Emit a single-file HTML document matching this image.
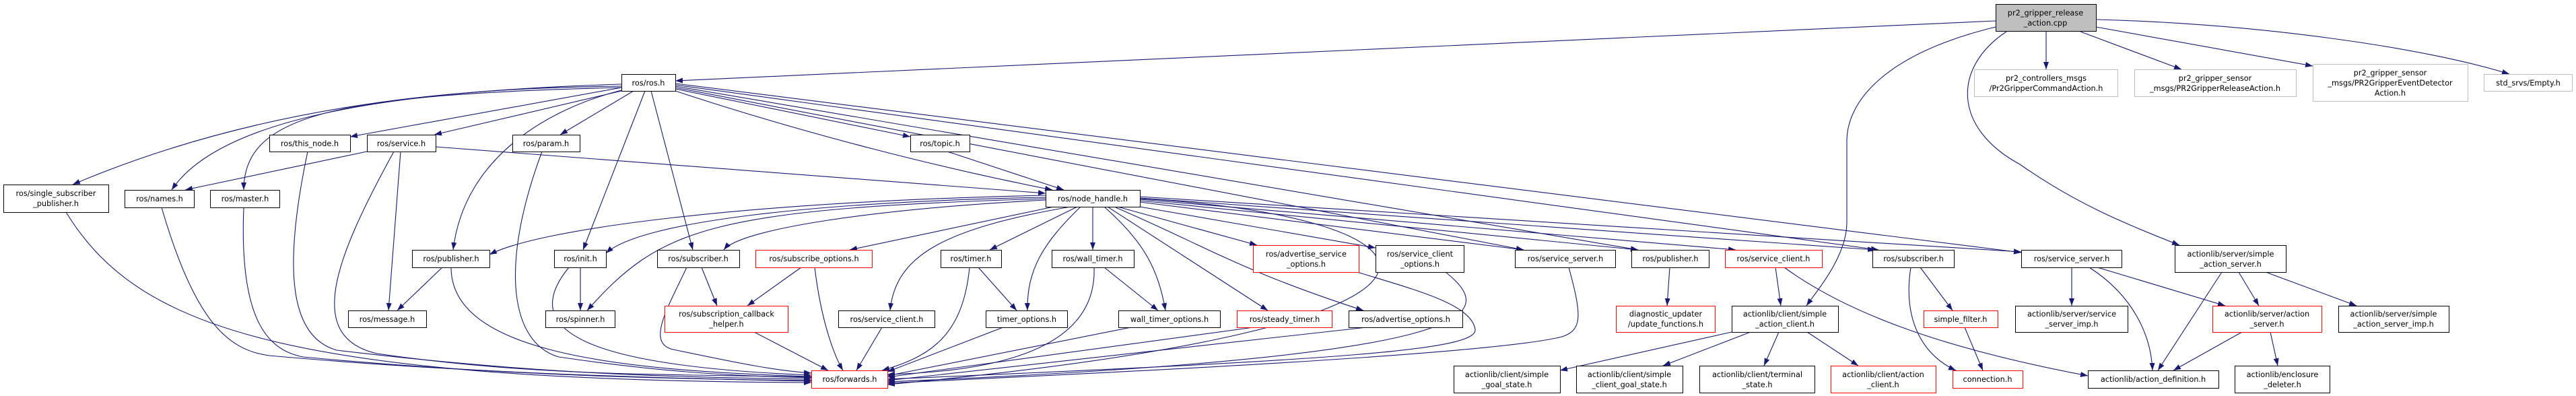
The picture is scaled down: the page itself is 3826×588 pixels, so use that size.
<!DOCTYPE html>
<html><head><meta charset="utf-8"><style>
html,body{margin:0;padding:0;background:#fff;}
svg{display:block;}
text{font-family:"DejaVu Sans","Liberation Sans",sans-serif;font-size:11.3px;fill:#000;text-anchor:middle;}
.e{fill:none;stroke:#191970;stroke-width:1.1;marker-end:url(#ah);}
.n{fill:#fff;stroke:#000;stroke-width:1;}
.r{fill:#fff;stroke:#ff0000;stroke-width:1;}
.g{fill:#fff;stroke:#bfbfbf;stroke-width:1;}
</style></head><body>
<svg width="3826" height="588" viewBox="0 0 3826 588" xmlns="http://www.w3.org/2000/svg">
<defs><marker id="ah" markerUnits="userSpaceOnUse" markerWidth="12" markerHeight="10" refX="11" refY="4" orient="auto"><path d="M0,0 L11,4 L0,8 z" fill="#191970"/></marker></defs>
<g>
<!-- pr2 edges -->
<path class="e" d="M2964,31 L1003,120"/>
<path class="e" d="M2964,40 C2800,80 2743,150 2743,210 L2743,330 C2743,380 2700,430 2683,454"/>
<path class="e" d="M2980,47 C2900,100 2900,190 3000,244 C3080,300 3150,330 3237,364"/>
<path class="e" d="M3039,46 L3039,103"/>
<path class="e" d="M3090,47 L3240,103"/>
<path class="e" d="M3113,40 L3435,98"/>
<path class="e" d="M3113,29 C3350,35 3600,70 3727,110"/>
<!-- ros.h edges -->
<path class="e" d="M923,128 C700,130 400,150 108,274"/>
<path class="e" d="M923,125 C600,135 330,170 255,282"/>
<path class="e" d="M923,130 C500,140 362,170 362,282"/>
<path class="e" d="M923,130 L520,203"/>
<path class="e" d="M923,135 L645,200"/>
<path class="e" d="M941,135 L832,200"/>
<path class="e" d="M923,134 C820,160 690,230 673,371"/>
<path class="e" d="M958,135 L866,371"/>
<path class="e" d="M967,135 L1029,371"/>
<path class="e" d="M1003,132 L1352,203"/>
<path class="e" d="M1003,135 C1200,200 1400,250 1563,282"/>
<path class="e" d="M1003,130 L2263,371"/>
<path class="e" d="M1003,128 L2433,371"/>
<path class="e" d="M1003,126 L2790,371"/>
<path class="e" d="M1003,124 L3002,375"/>
<!-- service.h -->
<path class="e" d="M545,225 L275,282"/>
<path class="e" d="M595,225 L577,461"/>
<path class="e" d="M585,225 C500,380 450,500 560,525 C800,560 1000,555 1205,560"/>
<path class="e" d="M647,218 L1553,287"/>
<path class="e" d="M1407,225 L1580,282"/>
<!-- to forwards from left -->
<path class="e" d="M98,315 C200,480 400,565 1205,568"/>
<path class="e" d="M240,308 C290,480 340,520 400,528 C700,555 1000,562 1205,566"/>
<path class="e" d="M362,308 C355,480 400,520 450,530 C750,558 1000,563 1205,565"/>
<path class="e" d="M457,225 C420,400 430,500 500,520 C800,556 1000,560 1205,563"/>
<path class="e" d="M805,225 C740,400 760,510 830,530 C1000,555 1100,558 1205,561"/>
<path class="e" d="M670,397 C670,520 900,550 1205,559"/>
<path class="e" d="M657,397 L590,461"/>
<path class="e" d="M862,397 L862,461"/>
<path class="e" d="M845,397 C760,500 900,545 1205,557"/>
<path class="e" d="M1042,397 L1065,454"/>
<path class="e" d="M1020,397 C990,460 960,510 1000,519 C1100,540 1150,550 1205,554"/>
<path class="e" d="M1190,397 L1110,454"/>
<path class="e" d="M1210,397 C1220,480 1240,530 1252,550"/>
<path class="e" d="M1120,493 L1230,550"/>
<path class="e" d="M1310,486 L1272,550"/>
<path class="e" d="M1453,397 L1510,461"/>
<path class="e" d="M1440,397 C1430,500 1380,530 1310,550"/>
<path class="e" d="M1490,486 L1318,552"/>
<path class="e" d="M1640,397 L1720,461"/>
<path class="e" d="M1625,397 C1630,530 1450,552 1318,556"/>
<path class="e" d="M1680,486 L1318,558"/>
<path class="e" d="M1862,486 L1318,560"/>
<path class="e" d="M2016,404 C2100,430 2185,451 2191,489 C2195,520 2000,534 1318,563"/>
<path class="e" d="M2030,486 L1318,565"/>
<path class="e" d="M2147,404 C2230,470 2200,530 1318,567"/>
<path class="e" d="M2330,397 C2350,470 2350,490 2320,500 C2200,530 1500,560 1318,569"/>
<path class="e" d="M1693,295 C2150,320 2300,480 1318,571"/>
<!-- node_handle edges -->
<path class="e" d="M1553,290 C1100,300 800,340 727,378"/>
<path class="e" d="M1553,293 C1200,300 950,330 900,376"/>
<path class="e" d="M1553,297 C1300,310 1100,340 1075,371"/>
<path class="e" d="M1553,295 C1050,310 980,340 872,461"/>
<path class="e" d="M1565,307 L1262,371"/>
<path class="e" d="M1590,307 C1400,340 1330,380 1322,461"/>
<path class="e" d="M1600,307 L1470,371"/>
<path class="e" d="M1605,307 C1550,360 1525,400 1526,461"/>
<path class="e" d="M1623,307 L1623,371"/>
<path class="e" d="M1640,307 C1700,360 1720,400 1731,461"/>
<path class="e" d="M1645,307 L1883,461"/>
<path class="e" d="M1660,307 L1867,364"/>
<path class="e" d="M1693,307 L2043,368"/>
<path class="e" d="M1657,308 C1790,365 1842,402 2025,461"/>
<path class="e" d="M1693,300 L2263,371"/>
<path class="e" d="M1693,298 L2433,371"/>
<path class="e" d="M1693,296 L2578,371"/>
<path class="e" d="M1693,294 L2785,371"/>
<path class="e" d="M1693,292 L3002,374"/>
<!-- right side -->
<path class="e" d="M2480,397 L2476,454"/>
<path class="e" d="M2637,397 L2645,454"/>
<path class="e" d="M2650,397 C2750,470 2900,520 3101,558"/>
<path class="e" d="M2852,397 L2900,461"/>
<path class="e" d="M2838,397 C2825,480 2860,530 2905,550"/>
<path class="e" d="M2918,486 L2945,550"/>
<path class="e" d="M2572,493 L2317,550"/>
<path class="e" d="M2600,493 L2470,543"/>
<path class="e" d="M2642,493 L2620,543"/>
<path class="e" d="M2684,493 L2760,543"/>
<path class="e" d="M3077,397 L3077,454"/>
<path class="e" d="M3103,397 C3170,440 3195,500 3197,550"/>
<path class="e" d="M3115,397 L3305,454"/>
<path class="e" d="M3300,404 L3205,550"/>
<path class="e" d="M3325,404 L3355,454"/>
<path class="e" d="M3365,404 L3500,454"/>
<path class="e" d="M3330,493 L3228,550"/>
<path class="e" d="M3372,493 L3383,543"/>
</g>
<g>
<rect x="2964.5" y="6.5" width="149" height="40" fill="#bfbfbf" stroke="#000"/><text x="3038" y="23">pr2_gripper_release</text><text x="3038" y="38">_action.cpp</text>
<rect class="n" x="923.5" y="110.5" width="80" height="25"/><text x="963" y="127">ros/ros.h</text>
<rect class="n" x="5.5" y="274.5" width="156" height="41"/><text x="83" y="291">ros/single_subscriber</text><text x="83" y="306">_publisher.h</text>
<rect class="n" x="185.5" y="282.5" width="103" height="26"/><text x="237" y="299">ros/names.h</text>
<rect class="n" x="312.5" y="282.5" width="103" height="26"/><text x="364" y="299">ros/master.h</text>
<rect class="n" x="400.5" y="200.5" width="120" height="25"/><text x="460" y="217">ros/this_node.h</text>
<rect class="n" x="545.5" y="200.5" width="102" height="25"/><text x="596" y="217">ros/service.h</text>
<rect class="n" x="761.5" y="200.5" width="100" height="25"/><text x="811" y="217">ros/param.h</text>
<rect class="n" x="612.5" y="371.5" width="115" height="26"/><text x="670" y="388">ros/publisher.h</text>
<rect class="n" x="823.5" y="371.5" width="77" height="26"/><text x="862" y="388">ros/init.h</text>
<rect class="n" x="976.5" y="371.5" width="122" height="26"/><text x="1037" y="388">ros/subscriber.h</text>
<rect class="n" x="517.5" y="461.5" width="116" height="25"/><text x="575" y="478">ros/message.h</text>
<rect class="n" x="810.5" y="461.5" width="103" height="25"/><text x="862" y="478">ros/spinner.h</text>
<rect class="r" x="987.5" y="454.5" width="183" height="39"/><text x="1079" y="470">ros/subscription_callback</text><text x="1079" y="485">_helper.h</text>
<rect class="n" x="1352.5" y="200.5" width="88" height="25"/><text x="1396" y="217">ros/topic.h</text>
<rect class="n" x="1553.5" y="282.5" width="140" height="25"/><text x="1623" y="299">ros/node_handle.h</text>
<rect class="r" x="1122.5" y="371.5" width="173" height="26"/><text x="1209" y="388">ros/subscribe_options.h</text>
<rect class="n" x="1397.5" y="371.5" width="90" height="26"/><text x="1442" y="388">ros/timer.h</text>
<rect class="n" x="1562.5" y="371.5" width="122" height="26"/><text x="1623" y="388">ros/wall_timer.h</text>
<rect class="r" x="1861.5" y="364.5" width="157" height="40"/><text x="1940" y="381">ros/advertise_service</text><text x="1940" y="396">_options.h</text>
<rect class="n" x="1245.5" y="461.5" width="143" height="25"/><text x="1317" y="478">ros/service_client.h</text>
<rect class="n" x="1464.5" y="461.5" width="121" height="25"/><text x="1525" y="478">timer_options.h</text>
<rect class="n" x="1661.5" y="461.5" width="151" height="25"/><text x="1737" y="478">wall_timer_options.h</text>
<rect class="r" x="1837.5" y="461.5" width="141" height="25"/><text x="1908" y="478">ros/steady_timer.h</text>
<rect class="r" x="1205.5" y="550.5" width="113" height="26"/><text x="1262" y="567">ros/forwards.h</text>
<rect class="n" x="2043.5" y="364.5" width="131" height="40"/><text x="2109" y="381">ros/service_client</text><text x="2109" y="396">_options.h</text>
<rect class="n" x="2250.5" y="371.5" width="149" height="26"/><text x="2325" y="388">ros/service_server.h</text>
<rect class="n" x="2423.5" y="371.5" width="115" height="26"/><text x="2481" y="388">ros/publisher.h</text>
<rect class="r" x="2562.5" y="371.5" width="144" height="26"/><text x="2634" y="388">ros/service_client.h</text>
<rect class="n" x="2781.5" y="371.5" width="121" height="26"/><text x="2842" y="388">ros/subscriber.h</text>
<rect class="n" x="2003.5" y="461.5" width="169" height="25"/><text x="2088" y="478">ros/advertise_options.h</text>
<rect class="r" x="2400.5" y="454.5" width="147" height="39"/><text x="2474" y="470">diagnostic_updater</text><text x="2474" y="485">/update_functions.h</text>
<rect class="n" x="2572.5" y="454.5" width="158" height="39"/><text x="2651" y="470">actionlib/client/simple</text><text x="2651" y="485">_action_client.h</text>
<rect class="r" x="2857.5" y="461.5" width="110" height="25"/><text x="2912" y="478">simple_filter.h</text>
<rect class="n" x="2159.5" y="543.5" width="158" height="40"/><text x="2238" y="560">actionlib/client/simple</text><text x="2238" y="575">_goal_state.h</text>
<rect class="n" x="2341.5" y="543.5" width="158" height="40"/><text x="2420" y="560">actionlib/client/simple</text><text x="2420" y="575">_client_goal_state.h</text>
<rect class="n" x="2524.5" y="543.5" width="171" height="40"/><text x="2610" y="560">actionlib/client/terminal</text><text x="2610" y="575">_state.h</text>
<rect class="r" x="2719.5" y="543.5" width="156" height="40"/><text x="2797" y="560">actionlib/client/action</text><text x="2797" y="575">_client.h</text>
<rect class="r" x="2900.5" y="550.5" width="104" height="26"/><text x="2952" y="567">connection.h</text>
<rect class="g" x="2932.5" y="103.5" width="213" height="40"/><text x="3039" y="120">pr2_controllers_msgs</text><text x="3039" y="135">/Pr2GripperCommandAction.h</text>
<rect class="g" x="3170.5" y="103.5" width="240" height="40"/><text x="3290" y="120">pr2_gripper_sensor</text><text x="3290" y="135">_msgs/PR2GripperReleaseAction.h</text>
<rect class="g" x="3435.5" y="95.5" width="230" height="55"/><text x="3550" y="112">pr2_gripper_sensor</text><text x="3550" y="127">_msgs/PR2GripperEventDetector</text><text x="3550" y="142">Action.h</text>
<rect class="g" x="3689.5" y="110.5" width="131" height="25"/><text x="3755" y="127">std_srvs/Empty.h</text>
<rect class="n" x="3002.5" y="371.5" width="149" height="26"/><text x="3077" y="388">ros/service_server.h</text>
<rect class="n" x="3230.5" y="364.5" width="165" height="40"/><text x="3313" y="381">actionlib/server/simple</text><text x="3313" y="396">_action_server.h</text>
<rect class="n" x="2993.5" y="454.5" width="167" height="39"/><text x="3077" y="470">actionlib/server/service</text><text x="3077" y="485">_server_imp.h</text>
<rect class="r" x="3286.5" y="454.5" width="162" height="39"/><text x="3367" y="470">actionlib/server/action</text><text x="3367" y="485">_server.h</text>
<rect class="n" x="3473.5" y="454.5" width="164" height="39"/><text x="3555" y="470">actionlib/server/simple</text><text x="3555" y="485">_action_server_imp.h</text>
<rect class="n" x="3101.5" y="550.5" width="194" height="26"/><text x="3198" y="567">actionlib/action_definition.h</text>
<rect class="n" x="3319.5" y="543.5" width="141" height="40"/><text x="3390" y="560">actionlib/enclosure</text><text x="3390" y="575">_deleter.h</text>
</g>
</svg>
</body></html>
